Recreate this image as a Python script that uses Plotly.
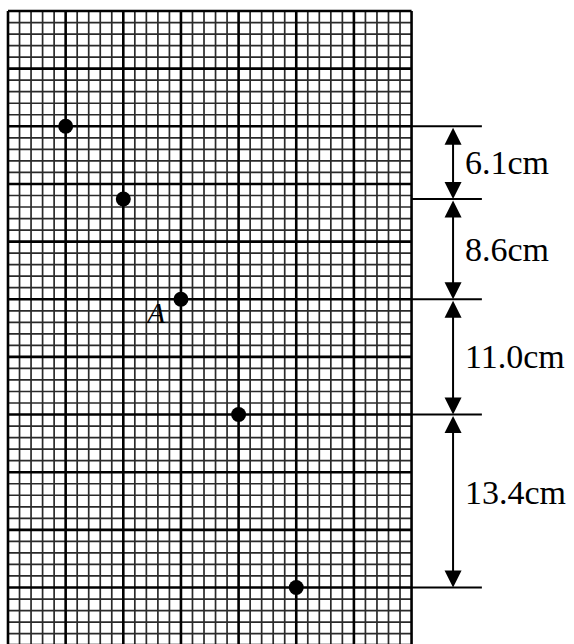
import plotly.graph_objects as go

# ---- data (grid units: 1 = one small square, y measured downward) ----
dot_x = [5, 10, 15, 20, 25]
dot_y = [10, 16.3, 25, 35, 50]
interval_labels = ["6.1cm", "8.6cm", "11.0cm", "13.4cm"]
point_label = "A"
point_label_index = 2
grid_cols = 35
grid_rows = 55
major_every = 5

# ---- layout constants ----
W, H = 574, 644
px_per_unit = 11.53
x0_px, y0_px = 8, 11
x_range = [-x0_px / px_per_unit, (W - x0_px) / px_per_unit]
y_range = [(H - y0_px) / px_per_unit, -y0_px / px_per_unit]

ext_end = 41.1     # end of extension lines (units)
arrow_x = 38.6     # x of dimension arrows (units)
text_x = 39.45     # left of dimension text (units)

fig = go.Figure()

# grid lines
def grid_trace(is_major):
    xs, ys = [], []
    for i in range(grid_cols + 1):
        if (i % major_every == 0) == is_major:
            xs += [i, i, None]
            ys += [0, grid_rows, None]
    for j in range(grid_rows + 1):
        if (j % major_every == 0) == is_major:
            xs += [0, grid_cols, None]
            ys += [j, j, None]
    return go.Scatter(
        x=xs, y=ys, mode="lines", hoverinfo="skip",
        line=dict(color="#000000" if is_major else "#2a2a2a",
                  width=2.6 if is_major else 1.7),
    )

fig.add_trace(grid_trace(False))
fig.add_trace(grid_trace(True))

# extension lines at each dot level
ex, ey = [], []
for yv in dot_y:
    ex += [grid_cols, ext_end, None]
    ey += [yv, yv, None]
fig.add_trace(go.Scatter(x=ex, y=ey, mode="lines", hoverinfo="skip",
                         line=dict(color="black", width=2)))

# dots
fig.add_trace(go.Scatter(x=dot_x, y=dot_y, mode="markers", hoverinfo="skip",
                         marker=dict(color="black", size=15)))

annotations = []
# dimension arrows and labels
n = len(interval_labels)
for k, lab in enumerate(interval_labels):
    y1, y2 = dot_y[k], dot_y[k + 1]
    annotations.append(dict(
        x=arrow_x, y=y2, ax=arrow_x, ay=y1, xref="x", yref="y",
        axref="x", ayref="y", showarrow=True, arrowhead=2, startarrowhead=2,
        arrowside="end+start", arrowsize=1.7, startarrowsize=1.7,
        arrowwidth=2, arrowcolor="black", standoff=0, startstandoff=0, text="",
    ))
    annotations.append(dict(
        x=text_x, y=(y1 + y2) / 2, xref="x", yref="y", text=lab,
        showarrow=False, xanchor="left", yanchor="middle",
        yshift=9 if k == n - 1 else 0,
        font=dict(family="Liberation Serif", size=34, color="black"),
    ))

# point label
annotations.append(dict(
    x=dot_x[point_label_index], y=dot_y[point_label_index], xref="x", yref="y",
    text="<i>" + point_label + "</i>", showarrow=False,
    xshift=-25, yshift=-13,
    font=dict(family="Liberation Serif", size=30, color="black"),
))

fig.update_layout(
    width=W, height=H, margin=dict(l=0, r=0, t=0, b=0),
    paper_bgcolor="white", plot_bgcolor="white", showlegend=False,
    xaxis=dict(range=x_range, visible=False, fixedrange=True),
    yaxis=dict(range=y_range, visible=False, fixedrange=True),
    annotations=annotations,
)

fig.write_html("out.html", config={"displayModeBar": False, "staticPlot": True},
               post_script="document.body.style.margin='0';document.body.style.overflow='hidden';")
